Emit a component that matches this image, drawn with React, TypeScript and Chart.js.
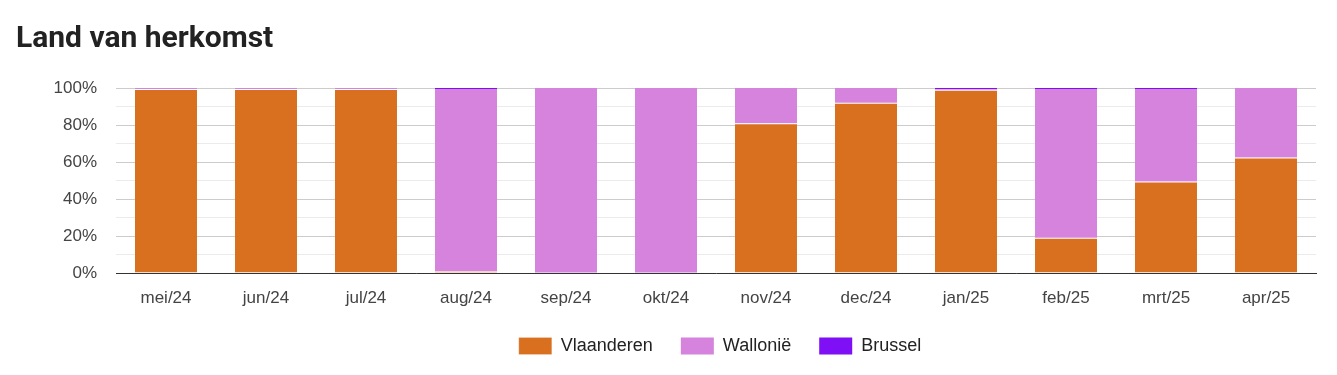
import React, { useEffect, useRef } from "react";
import { Chart, registerables } from "chart.js";

Chart.register(...registerables);

const title = "Land van herkomst";
const months = ["mei/24", "jun/24", "jul/24", "aug/24", "sep/24", "okt/24", "nov/24", "dec/24", "jan/25", "feb/25", "mrt/25", "apr/25"];
const vlaanderen = [99.5, 99.5, 99.5, 1, 0, 0, 81, 92, 99, 19, 49.5, 62.5];
const wallonie = [0.5, 0.5, 0.5, 98.5, 100, 100, 19, 8, 0.5, 80.5, 50, 37.5];
const brussel = [0, 0, 0, 0.5, 0, 0, 0, 0, 0.5, 0.5, 0.5, 0.3];
const seriesNames = ["Vlaanderen", "Wallonië", "Brussel"];
const seriesColors = ["#d9701f", "#d683dd", "#7f0ff5"];
const yTickLabels = ["0%", "20%", "40%", "60%", "80%", "100%"];

const centerLegendOnPlot = {
  id: "centerLegendOnPlot",
  afterLayout(chart: any) {
    const l = chart.legend;
    if (!l) return;
    const shift = (chart.chartArea.left + chart.chartArea.right) / 2 - (l.left + l.right) / 2 + 4;
    l.left += shift;
    l.right += shift;
  },
};

export default function App() {
  const ref = useRef<HTMLCanvasElement | null>(null);

  useEffect(() => {
    document.body.style.margin = "0";
    const canvas = ref.current;
    if (!canvas) return;
    const sep = { top: 1, bottom: 0, left: 0, right: 0 };
    const axisFont = { family: "Liberation Sans, Arial, sans-serif", size: 17 };
    const chart = new Chart(canvas, {
      type: "bar",
      data: {
        labels: months,
        datasets: [
          { label: seriesNames[0], data: vlaanderen, backgroundColor: seriesColors[0], borderColor: "rgba(255,255,255,0.85)", borderWidth: sep, borderSkipped: false },
          { label: seriesNames[1], data: wallonie, backgroundColor: seriesColors[1], borderWidth: 0 },
          { label: seriesNames[2], data: brussel, backgroundColor: seriesColors[2], borderWidth: 0 },
        ],
      },
      plugins: [centerLegendOnPlot],
      options: {
        responsive: false,
        animation: false,
        devicePixelRatio: 1,
        layout: { padding: { top: 88, left: 0, right: 21, bottom: 10 } },
        datasets: { bar: { barPercentage: 0.62, categoryPercentage: 1 } },
        plugins: {
          title: { display: false },
          tooltip: { enabled: false },
          legend: {
            position: "bottom",
            labels: {
              boxWidth: 33,
              boxHeight: 17,
              padding: 28,
              color: "#222",
              font: { family: "Liberation Sans, Arial, sans-serif", size: 18 },
            },
          },
        },
        scales: {
          x: {
            stacked: true,
            grid: { display: false, drawTicks: false },
            border: { display: true, color: "#333", width: 1 },
            ticks: {
              color: "#444",
              padding: 15,
              maxRotation: 0,
              autoSkip: false,
              font: axisFont,
            },
            afterFit: (s: any) => { s.height = 36; },
          },
          y: {
            stacked: true,
            min: 0,
            max: 100,
            grid: {
              drawTicks: false,
              color: (ctx: any) => (ctx.tick && ctx.tick.value % 20 === 0 ? "#cccccc" : "#ebebeb"),
            },
            border: { display: false },
            ticks: {
              stepSize: 10,
              autoSkip: false,
              padding: 19,
              color: "#444",
              font: axisFont,
              callback: (v: any) => {
                const n = Number(v);
                return n % 20 === 0 ? yTickLabels[n / 20] : "";
              },
            },
            afterFit: (s: any) => { s.width = 116; },
          },
        },
      },
    });
    return () => chart.destroy();
  }, []);

  return (
    <div style={{ position: "absolute", left: 0, top: 0, width: 1337, height: 375, background: "#fff" }}>
      <div
        style={{
          position: "absolute",
          left: 16,
          top: 18,
          fontFamily: "Roboto, 'Open Sans', sans-serif",
          fontWeight: 700,
          fontSize: 30,
          color: "#222",
          lineHeight: "38px",
          whiteSpace: "nowrap",
        }}
      >
        {title}
      </div>
      <canvas ref={ref} width={1337} height={375} style={{ display: "block", width: 1337, height: 375 }} />
    </div>
  );
}
